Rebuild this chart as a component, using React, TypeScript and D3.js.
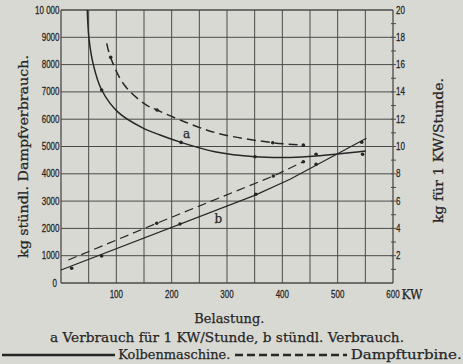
import React, { useLayoutEffect } from "react";
import * as d3 from "d3";

// ---- data ----
const kwTicks = [100, 200, 300, 400, 500, 600];
const leftTicks = [0, 1000, 2000, 3000, 4000, 5000, 6000, 7000, 8000, 9000, 10000];
const leftTickLabels = ["0", "1000", "2000", "3000", "4000", "5000", "6000", "7000", "8000", "9000", "10 000"];
const rightTicks = [2, 4, 6, 8, 10, 12, 14, 16, 18, 20];

// curve a: consumption per KW-hour (right axis, kg)
const kolbenA: [number, number][] = [
  [47.5, 20], [50.6, 17.9], [58.4, 16.0], [73.5, 14.14], [103.5, 12.5], [145.8, 11.4],
  [179, 10.84], [217, 10.3], [278, 9.62], [350.6, 9.25], [414, 9.2], [461, 9.3], [551, 9.67],
];
const kolbenADots: [number, number][] = [[73.5, 14.14], [217, 10.3], [350.6, 9.25], [461, 9.43], [545, 9.43]];
const turbineA: [number, number][] = [
  [82.6, 17.56], [89.8, 16.5], [114.5, 14.5], [151.8, 13.1], [173.5, 12.67], [224, 11.8],
  [284, 10.96], [382.6, 10.28], [438, 10.1],
];
const turbineADots: [number, number][] = [[89.8, 16.53], [173.5, 12.67], [382.6, 10.28], [438, 10.1]];

// curve b: hourly consumption (left axis, kg)
const kolbenB: [number, number][] = [
  [0, 476], [350, 3209], [414, 3799], [461, 4311], [552, 5300],
];
const kolbenBDots: [number, number][] = [[19.3, 538], [73.5, 989], [215, 2161], [352, 3249], [461, 4348], [543.5, 5153]];
const turbineB: [number, number][] = [[13.2, 842], [173, 2187], [383.7, 3919], [438, 4443]];
const turbineBDots: [number, number][] = [[173, 2187], [383.7, 3919], [438, 4443]];

const INK = "#262626";
const PAPER = "#d9d9d4";
const SERIF = "'DejaVu Serif', 'Liberation Serif', serif";
const SANS = "'Liberation Sans', Arial, sans-serif";

export default function App() {
  useLayoutEffect(() => {
    document.body.style.margin = "0";
  }, []);

  const x = d3.scaleLinear().domain([0, 600]).range([61, 393]);
  const yL = d3.scaleLinear().domain([0, 10000]).range([283, 10]);
  const yR = d3.scaleLinear().domain([0, 20]).range([283, 10]);

  const lineR = d3.line<[number, number]>().x((d) => x(d[0])).y((d) => yR(d[1])).curve(d3.curveCatmullRom.alpha(0.5));
  const lineL = d3.line<[number, number]>().x((d) => x(d[0])).y((d) => yL(d[1])).curve(d3.curveLinear);

  const vGrid = d3.range(0, 601, 50);
  const hGrid = d3.range(0, 10001, 1000);
  const rMinor = d3.range(1, 20, 1);

  const dotsR = (pts: [number, number][], k: string) =>
    pts.map((d, i) => <circle key={k + i} cx={x(d[0])} cy={yR(d[1])} r={1.8} fill={INK} />);
  const dotsL = (pts: [number, number][], k: string) =>
    pts.map((d, i) => <circle key={k + i} cx={x(d[0])} cy={yL(d[1])} r={1.8} fill={INK} />);

  const txt = { fill: INK, stroke: INK, strokeWidth: 0.25 };

  return (
    <svg width={463} height={364} style={{ display: "block", background: PAPER }}>
      <rect x={0} y={0} width={463} height={364} fill={PAPER} />
      {/* grid */}
      {vGrid.map((v) => (
        <line key={"v" + v} x1={x(v)} x2={x(v)} y1={yL(10000)} y2={yL(0)} stroke="#4a4a4a" strokeWidth={v === 0 || v === 600 ? 1.3 : 1} />
      ))}
      {hGrid.map((v) => (
        <line key={"h" + v} x1={x(0)} x2={x(600)} y1={yL(v)} y2={yL(v)} stroke="#4a4a4a" strokeWidth={v === 0 || v === 10000 ? 1.3 : 1} />
      ))}
      {/* right minor ticks */}
      {rMinor.map((v) => (
        <line key={"rt" + v} x1={x(600) - 2} x2={x(600) + 3} y1={yR(v)} y2={yR(v)} stroke="#4a4a4a" strokeWidth={1} />
      ))}

      {/* left tick labels */}
      {leftTicks.map((v, i) => (
        <g key={"lt" + v} transform={`translate(${v === 0 ? 57 : 59.5},${yL(v)}) scale(0.8,1)`}>
          <text x={0} y={3.5} textAnchor="end" fontFamily={SANS} fontSize={10} {...txt}>
            {leftTickLabels[i]}
          </text>
        </g>
      ))}
      {/* right tick labels */}
      {rightTicks.map((v) => (
        <g key={"rl" + v} transform={`translate(396,${yR(v)}) scale(0.8,1)`}>
          <text x={0} y={3.5} textAnchor="start" fontFamily={SANS} fontSize={10} {...txt}>
            {v}
          </text>
        </g>
      ))}
      {/* bottom tick labels */}
      {kwTicks.map((v) => (
        <g key={"bl" + v} transform={`translate(${x(v)},297.5) scale(0.8,1)`}>
          <text x={0} y={0} textAnchor="middle" fontFamily={SANS} fontSize={10} {...txt}>
            {v}
          </text>
        </g>
      ))}
      <text x={401.5} y={298.5} fontFamily={SERIF} fontSize={12} {...txt} textLength={21} lengthAdjust="spacingAndGlyphs">
        KW
      </text>

      {/* curves */}
      <path d={lineR(kolbenA) || ""} fill="none" stroke={INK} strokeWidth={1.5} />
      <path d={lineR(turbineA) || ""} fill="none" stroke={INK} strokeWidth={1.5} strokeDasharray="9,5" />
      <path d={lineL(kolbenB) || ""} fill="none" stroke={INK} strokeWidth={1.2} />
      <path d={lineL(turbineB) || ""} fill="none" stroke={INK} strokeWidth={1.2} strokeDasharray="9,5" />
      {dotsR(kolbenADots, "ka")}
      {dotsR(turbineADots, "ta")}
      {dotsL(kolbenBDots, "kb")}
      {dotsL(turbineBDots, "tb")}

      <text x={186.7} y={137.5} textAnchor="middle" fontFamily={SERIF} fontSize={12} {...txt}>a</text>
      <text x={218.3} y={222.5} textAnchor="middle" fontFamily={SERIF} fontSize={12} {...txt}>b</text>

      {/* axis titles */}
      <text transform="translate(27.5,156.5) rotate(-90)" textAnchor="middle" fontFamily={SERIF} fontSize={12.5} {...txt} textLength={203} lengthAdjust="spacingAndGlyphs">
        kg stündl. Dampfverbrauch.
      </text>
      <text transform="translate(443,150.5) rotate(-90)" textAnchor="middle" fontFamily={SERIF} fontSize={12.5} {...txt} textLength={145} lengthAdjust="spacingAndGlyphs">
        kg für 1 KW/Stunde.
      </text>

      {/* captions */}
      <text x={229.3} y={322.5} textAnchor="middle" fontFamily={SERIF} fontSize={13} {...txt} textLength={70} lengthAdjust="spacingAndGlyphs">
        Belastung.
      </text>
      <text x={227} y={341.5} textAnchor="middle" fontFamily={SERIF} fontSize={13} {...txt} textLength={354} lengthAdjust="spacingAndGlyphs">
        a Verbrauch für 1 KW/Stunde, b stündl. Verbrauch.
      </text>
      <line x1={2} x2={115} y1={355} y2={355} stroke={INK} strokeWidth={2.5} />
      <text x={118.3} y={359.3} fontFamily={SERIF} fontSize={13} {...txt} textLength={112} lengthAdjust="spacingAndGlyphs">
        Kolbenmaschine.
      </text>
      <line x1={235} x2={347} y1={355} y2={355} stroke={INK} strokeWidth={2.5} strokeDasharray="8,4" />
      <text x={350.7} y={359.3} fontFamily={SERIF} fontSize={13} {...txt} textLength={111} lengthAdjust="spacingAndGlyphs">
        Dampfturbine.
      </text>
    </svg>
  );
}
